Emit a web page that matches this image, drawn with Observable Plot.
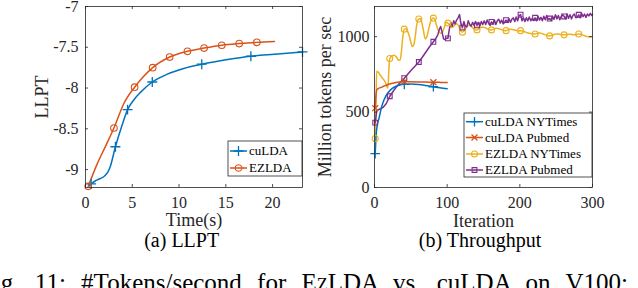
<!DOCTYPE html>
<html><head><meta charset="utf-8">
<script src="https://cdn.jsdelivr.net/npm/d3@7"></script>
<script src="https://cdn.jsdelivr.net/npm/@observablehq/plot@0.6"></script>
<style>
html,body{margin:0;padding:0;background:#fff;overflow:hidden;}
#fig{position:relative;width:638px;height:288px;overflow:hidden;font-family:"Liberation Serif","Times New Roman",serif;color:#262626;background:#fff;}
.abs{position:absolute;}
.sub{position:absolute;font-size:20px;line-height:20px;width:240px;text-align:center;white-space:nowrap;color:#000;}
#caption{position:absolute;left:-20px;top:270px;font-size:25px;line-height:25px;white-space:nowrap;word-spacing:9px;color:#000;}
.sc{font-variant:small-caps;}
</style></head><body><div id="fig"></div>
<script>
// ---------------- (a) LLPT data ----------------
const llptXTicks = [0, 5, 10, 15, 20];
const llptYTicks = [-9, -8.5, -8, -7.5, -7];
const culdaTime = [0.4, 0.6, 1.2, 2.1, 2.6, 3.2, 3.9, 4.5, 5.2, 5.9, 7.14, 8.75, 10.5, 12.43, 15.2, 17.68, 20.2, 23.2];
const culdaLLPT = [-9.2, -9.176, -9.13, -9.074, -8.98, -8.72, -8.46, -8.265, -8.14, -8.05, -7.926, -7.83, -7.76, -7.708, -7.65, -7.61, -7.585, -7.557];
const culdaMarkIdx = [1, 5, 7, 10, 13, 15, 17];
const ezldaTime = [0.29, 1.25, 2.2, 3.04, 4.1, 5.25, 6.2, 7.18, 9.0, 10.9, 12.68, 14.57, 16.43, 18.32, 20.2];
const ezldaLLPT = [-9.205, -8.93, -8.7, -8.49, -8.19, -7.99, -7.86, -7.75, -7.62, -7.55, -7.51, -7.475, -7.455, -7.44, -7.43];
const ezldaMarkIdx = [0, 3, 5, 7, 8, 9, 10, 11, 12, 13];
const llptSeries = ["cuLDA", "EZLDA"];

// ---------------- (b) Throughput data ----------------
const thrXTicks = [0, 100, 200, 300];
const thrYTicks = [0, 500, 1000];
const thrSeries = ["cuLDA NYTimes", "cuLDA Pubmed", "EZLDA NYTimes", "EZLDA Pubmed"];
const culdaNYTimes = [[1,224],[2,330],[4,420],[6,455],[9,520],[13,580],[18,625],[24,656],[30,672],[35,680],[41,684],[50,686],[60,683],[70,677],[81,668],[90,661],[100,655]];
const culdaPubmed = [[1,526],[2,610],[3,645],[5,655],[8,662],[12,670],[17,680],[22,688],[28,695],[35,700],[41,702],[50,701],[60,700],[70,699],[81,698],[90,697],[100,696]];
const ezldaNYTimes = [[1,325],[2,540],[3,770],[5,765],[8,745],[11,725],[14,705],[16,685],[18,660],[19,700],[20,800],[21,855],[24,872],[27,876],[30,866],[33,845],[35,843],[37,900],[39,1000],[41,1050],[43,1052],[46,1030],[49,985],[52,935],[54,945],[56,1000],[58,1075],[61,1117],[63,1118],[65,1095],[67,1050],[70,985],[72,1000],[75,1060],[78,1110],[81,1123],[83,1115],[85,1080],[88,1040],[91,1023],[94,1035],[97,1075],[99,1095],[101,1090],[104,1075],[107,1060],[110,1075],[113,1085],[116,1070],[118,1045],[121,1030],[124,1045],[127,1065],[130,1075],[133,1070],[136,1055],[139,1045],[141,1045],[144,1055],[147,1062],[150,1062],[153,1058],[156,1050],[159,1046],[161,1045],[164,1050],[167,1055],[170,1054],[173,1050],[176,1045],[179,1040],[181,1040],[184,1046],[187,1050],[190,1048],[193,1044],[196,1040],[199,1038],[201,1040],[204,1038],[207,1032],[210,1026],[213,1022],[216,1020],[219,1018],[221,1018],[224,1022],[227,1024],[230,1022],[233,1016],[236,1010],[239,1006],[241,1005],[244,1008],[247,1014],[250,1018],[253,1018],[256,1015],[259,1012],[261,1012],[264,1014],[267,1016],[270,1016],[273,1013],[276,1012],[279,1016],[281,1018],[284,1016],[287,1010],[290,1004],[293,1000],[296,999],[300,1000]];
const ezldaPubmed = [[1,430],[3,505],[5,515],[8,522],[12,532],[16,555],[21,605],[26,640],[31,672],[36,700],[41,725],[46,752],[51,780],[56,805],[61,832],[66,865],[71,900],[76,935],[81,966],[84,985],[87,1010],[89,1045],[91,1067],[93,1030],[95,985],[97,980],[99,990],[101,989],[103,1050],[105,1095],[107,1070],[109,1105],[111,1085],[113,1110],[115,1125],[117,1146],[119,1085],[121,1060],[123,1100],[125,1070],[127,1065],[129,1105],[131,1080],[133,1070],[135,1095],[137,1075],[139,1100],[141,1075],[143,1095],[145,1070],[147,1100],[149,1080],[151,1105],[153,1080],[155,1110],[157,1090],[159,1075],[161,1098],[163,1085],[165,1110],[167,1080],[169,1105],[171,1115],[173,1090],[175,1110],[177,1085],[179,1094],[181,1110],[183,1095],[185,1120],[187,1095],[189,1115],[191,1125],[193,1100],[195,1130],[197,1105],[199,1140],[201,1146],[203,1105],[205,1125],[207,1100],[209,1125],[211,1105],[213,1130],[215,1105],[217,1122],[219,1107],[221,1125],[223,1105],[225,1135],[227,1110],[229,1128],[231,1105],[233,1135],[235,1112],[237,1140],[239,1115],[241,1120],[243,1108],[245,1135],[247,1115],[249,1145],[251,1118],[253,1140],[255,1112],[257,1135],[259,1145],[261,1134],[263,1118],[265,1150],[267,1122],[269,1145],[271,1118],[273,1140],[275,1150],[277,1125],[279,1128],[281,1145],[283,1125],[285,1155],[287,1132],[289,1150],[291,1128],[293,1150],[295,1138],[297,1155],[299,1140],[300,1148]];
const culdaMarkIters = [1, 41, 81];
const ezldaMarkIters = [1, 21, 41, 61, 81, 101, 121, 141, 161, 181, 201, 221, 241, 261, 281];

// ---------------- styles ----------------
const C = {blue: "#0072BD", orange: "#D95319", yellow: "#EDB120", purple: "#7E2F8E"};
const axisColor = "#262626";
const tickLen = 3;
const fontFamily = '"Liberation Serif","Times New Roman",serif';
const fig = document.getElementById("fig");

function frameAndTicks(xt, yt, iw, ih) {
  const s = {stroke: axisColor, strokeWidth: 0.8};
  return [
    Plot.ruleX(xt, {x: d => d, insetTop: ih - tickLen, ...s}),
    Plot.ruleX(xt, {x: d => d, insetBottom: ih - tickLen, ...s}),
    Plot.ruleY(yt, {y: d => d, insetRight: iw - tickLen, ...s}),
    Plot.ruleY(yt, {y: d => d, insetLeft: iw - tickLen, ...s}),
    Plot.frame({stroke: axisColor, strokeWidth: 0.8})
  ];
}
const labelOpts = {text: d => d, fontSize: 18, textAnchor: "middle", lineAnchor: "middle", fill: axisColor};

// ---------------- (a) LLPT ----------------
{
  const W = 316, H = 230, m = {l: 85, r: 14, t: 6, b: 43};
  const iw = W - m.l - m.r, ih = H - m.t - m.b;
  const svg = Plot.plot({
    width: W, height: H, marginLeft: m.l, marginRight: m.r, marginTop: m.t, marginBottom: m.b,
    x: {domain: [0, 23.2]},
    y: {domain: [-9.22, -7]},
    style: {background: "transparent", fontFamily, fontSize: "16px", color: axisColor},
    marks: [
      Plot.line(d3.range(culdaTime.length), {x: culdaTime, y: culdaLLPT, stroke: C.blue, strokeWidth: 1.5, curve: "monotone-x"}),
      Plot.line(d3.range(ezldaTime.length), {x: ezldaTime, y: ezldaLLPT, stroke: C.orange, strokeWidth: 1.5, curve: "monotone-x"}),
      Plot.dot(culdaMarkIdx, {x: i => culdaTime[i], y: i => culdaLLPT[i], symbol: "plus", r: 3.3, stroke: C.blue, strokeWidth: 1.3}),
      Plot.dot(ezldaMarkIdx, {x: i => ezldaTime[i], y: i => ezldaLLPT[i], symbol: "circle", r: 3.3, fill: "none", stroke: C.orange, strokeWidth: 1.1}),
      ...frameAndTicks(llptXTicks, llptYTicks, iw, ih),
      Plot.axisX({ticks: llptXTicks, tickSize: 0, tickPadding: 9, tickFormat: d => String(d), label: null}),
      Plot.axisY({ticks: llptYTicks, tickSize: 0, tickPadding: 7, tickFormat: d => String(d), label: null}),
      Plot.text(["Time(s)"], {...labelOpts, frameAnchor: "bottom", dy: 33}),
      Plot.text(["LLPT"], {...labelOpts, frameAnchor: "left", dx: -43, rotate: -90})
    ]
  });
  svg.style.position = "absolute"; svg.style.left = "0px"; svg.style.top = "0px";
  fig.appendChild(svg);
}

// ---------------- (b) Throughput ----------------
{
  const W = 322, H = 230, m = {l: 58, r: 46, t: 6, b: 43};
  const iw = W - m.l - m.r, ih = H - m.t - m.b;
  const X = d => d[0], Y = d => d[1];
  const svg = Plot.plot({
    width: W, height: H, marginLeft: m.l, marginRight: m.r, marginTop: m.t, marginBottom: m.b,
    x: {domain: [0, 300]},
    y: {domain: [0, 1200]},
    style: {background: "transparent", fontFamily, fontSize: "16px", color: axisColor},
    marks: [
      Plot.line(ezldaNYTimes, {x: X, y: Y, stroke: C.yellow, strokeWidth: 1.5, curve: "monotone-x"}),
      Plot.line(ezldaPubmed, {x: X, y: Y, stroke: C.purple, strokeWidth: 1.5}),
      Plot.line(culdaNYTimes, {x: X, y: Y, stroke: C.blue, strokeWidth: 1.5, curve: "monotone-x"}),
      Plot.line(culdaPubmed, {x: X, y: Y, stroke: C.orange, strokeWidth: 1.5, curve: "monotone-x"}),
      Plot.dot(ezldaNYTimes.filter(d => ezldaMarkIters.includes(d[0])), {x: X, y: Y, symbol: "circle", r: 3, fill: "none", stroke: C.yellow, strokeWidth: 1.1}),
      Plot.dot(ezldaPubmed.filter(d => ezldaMarkIters.includes(d[0])), {x: X, y: Y, symbol: "square", r: 2.7, fill: "none", stroke: C.purple, strokeWidth: 1.1}),
      Plot.dot(culdaNYTimes.filter(d => culdaMarkIters.includes(d[0])), {x: X, y: Y, symbol: "plus", r: 3.2, stroke: C.blue, strokeWidth: 1.3}),
      Plot.dot(culdaPubmed.filter(d => culdaMarkIters.includes(d[0])), {x: X, y: Y, symbol: "times", r: 2.8, stroke: C.orange, strokeWidth: 1.3}),
      ...frameAndTicks(thrXTicks, thrYTicks, iw, ih),
      Plot.axisX({ticks: thrXTicks, tickSize: 0, tickPadding: 9, tickFormat: d => String(d), label: null}),
      Plot.axisY({ticks: thrYTicks, tickSize: 0, tickPadding: 5, tickFormat: d => String(d), label: null}),
      Plot.text(["Iteration"], {...labelOpts, frameAnchor: "bottom", dy: 34}),
      Plot.text(["Million tokens per sec"], {...labelOpts, frameAnchor: "left", dx: -49, rotate: -90})
    ]
  });
  svg.style.position = "absolute"; svg.style.left = "316px"; svg.style.top = "0px";
  fig.appendChild(svg);
}

// ---------------- legends ----------------
const ov = d3.select(fig).append("svg").attr("class", "abs")
  .attr("width", 638).attr("height", 288).style("left", "0px").style("top", "0px");
const symType = {plus: d3.symbolPlus, times: d3.symbolTimes, circle: d3.symbolCircle, square: d3.symbolSquare};
function legend(box, rowsY, entries) {
  const g = ov.append("g");
  g.append("rect").attr("x", box.x).attr("y", box.y).attr("width", box.w).attr("height", box.h)
    .attr("fill", "#fff").attr("stroke", axisColor).attr("stroke-width", 0.8);
  entries.forEach((e, i) => {
    const y = rowsY[i];
    g.append("line").attr("x1", box.x + 2).attr("x2", box.x + 19).attr("y1", y).attr("y2", y)
      .attr("stroke", e.color).attr("stroke-width", 1.5);
    g.append("path").attr("transform", `translate(${box.x + 10.5},${y})`)
      .attr("d", d3.symbol().type(symType[e.sym]).size(e.r * e.r * Math.PI)())
      .attr("fill", "none").attr("stroke", e.color).attr("stroke-width", e.sw);
    g.append("text").attr("x", box.x + 21).attr("y", y).attr("dy", "0.32em")
      .attr("font-family", fontFamily).attr("font-size", 13).attr("fill", "#000").text(e.name);
  });
}
legend({x: 228, y: 141, w: 74, h: 35}, [151, 168], [
  {name: llptSeries[0], color: C.blue, sym: "plus", r: 3.3, sw: 1.3},
  {name: llptSeries[1], color: C.orange, sym: "circle", r: 3.3, sw: 1.1}
]);
legend({x: 464, y: 113, w: 128, h: 64}, [121.7, 137.5, 154, 170], [
  {name: thrSeries[0], color: C.blue, sym: "plus", r: 3.2, sw: 1.3},
  {name: thrSeries[1], color: C.orange, sym: "times", r: 2.8, sw: 1.3},
  {name: thrSeries[2], color: C.yellow, sym: "circle", r: 3, sw: 1.1},
  {name: thrSeries[3], color: C.purple, sym: "square", r: 2.7, sw: 1.1}
]);

// ---------------- sub-captions & caption ----------------
function addDiv(cls, left, top, html) {
  const d = document.createElement("div");
  d.className = cls; d.style.left = left + "px"; d.style.top = top + "px"; d.innerHTML = html;
  fig.appendChild(d);
  return d;
}
addDiv("sub", 181.7 - 120, 230, "(a) LLPT");
addDiv("sub", 480 - 120, 230, "(b) Throughput");
const cap = document.createElement("div");
cap.id = "caption";
cap.innerHTML = 'Fig. 11: #Tokens/second for E<span class="sc">z</span>LDA vs. cuLDA on V100:';
fig.appendChild(cap);
</script></body></html>
